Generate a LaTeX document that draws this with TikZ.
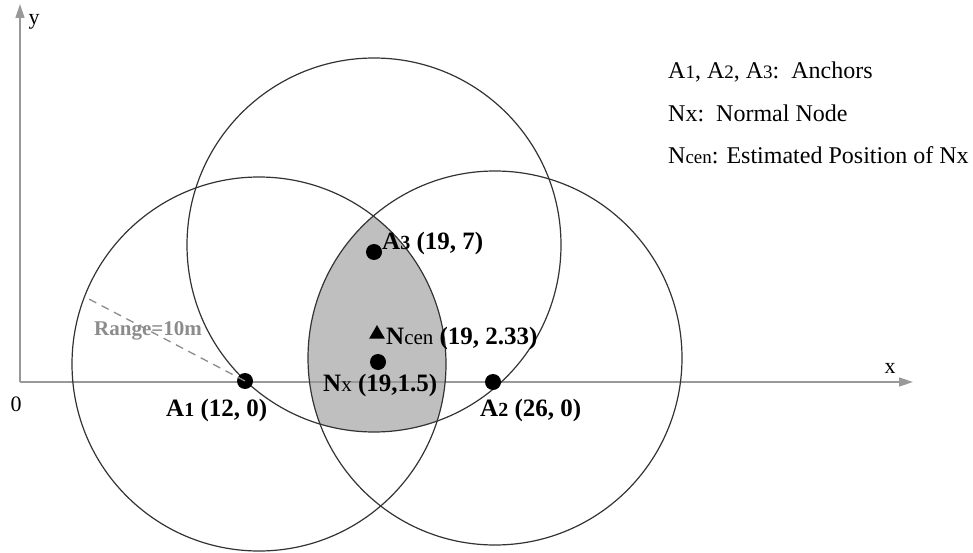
\documentclass[tikz,border=0pt]{standalone}
\usepackage{fontspec}
\setmainfont{Liberation Serif}
\usetikzlibrary{arrows.meta,shapes.geometric}
\begin{document}
\begin{tikzpicture}[x=1pt,y=-1pt,
  ring/.style={draw=black!80, line width=1.2pt},
  axisline/.style={draw=black!40, line width=1.4pt, -{Triangle[length=14pt,width=9pt]}},
  dot/.style={circle, fill=black, inner sep=0pt, minimum size=16pt},
  lbl/.style={font=\fontsize{25}{27}\selectfont\bfseries, inner sep=0pt, anchor=west},
  legend/.style={font=\fontsize{24}{26}\selectfont, inner sep=0pt, anchor=west},
  axlbl/.style={font=\fontsize{22}{24}\selectfont, inner sep=0pt}]
\useasboundingbox (0,0) rectangle (973,553);
% shaded intersection
\begin{scope}
  \clip (259,364) circle (187pt);
  \clip (495,358) circle (187pt);
  \fill[black!25] (374,245) circle (187pt);
\end{scope}
% axes
\coordinate (O) at (20,382);
\coordinate (XE) at (913,382);
\coordinate (YE) at (20,4);
\draw[axisline] (O) -- (XE);
\draw[axisline] (O) -- (YE);
\node[axlbl] (xl) at (890,368) {x};
\node[axlbl] (yl) at (34,22) {y};
\node[axlbl] (zl) at (16,404) {0};
% circles
\draw[ring] (259,364) circle (187pt);
\draw[ring] (495,358) circle (187pt);
\draw[ring] (374,245) circle (187pt);
% range line
\node[dot] (A1) at (245,381) {};
\coordinate (R) at (87,298);
\draw[black!45, line width=1.3pt, dash pattern=on 8pt off 6pt] (A1.center) -- (R);
\node[font=\fontsize{21}{23}\selectfont\bfseries, text=black!45, inner sep=0pt] (rng) at (148,331) {Range=10m};
% nodes
\node[dot] (A2) at (493,382) {};
\node[dot] (A3) at (374,252) {};
\node[dot] (Nx) at (378,362) {};
\node[fill=black, regular polygon, regular polygon sides=3, inner sep=0pt, minimum size=18pt] (Nc) at (377,334) {};
% labels
\node[lbl] (A1l) at (166,410) {A{\fontsize{20}{22}\selectfont 1} (12, 0)};
\node[lbl] (A2l) at (480,410) {A{\fontsize{20}{22}\selectfont 2} (26, 0)};
\node[lbl] (A3l) at (382,243) {A{\fontsize{20}{22}\selectfont 3} (19, 7)};
\node[lbl] (Ncl) at (386,338) {N{\fontsize{21}{23}\selectfont\mdseries cen} (19, 2.33)};
\node[lbl] (Nxl) at (323,385) {N{\fontsize{21}{23}\selectfont\mdseries x} (19,1.5)};
% legend
\node[legend] (L1) at (668,72) {A{\fontsize{19}{21}\selectfont 1}, A{\fontsize{19}{21}\selectfont 2}, A{\fontsize{19}{21}\selectfont 3}:\ \ Anchors};
\node[legend] (L2) at (668,113) {Nx:\ \ Normal Node};
\node[legend] (L3) at (668,155) {N{\fontsize{19}{21}\selectfont cen}: Estimated Position of Nx};
\end{tikzpicture}
\end{document}
